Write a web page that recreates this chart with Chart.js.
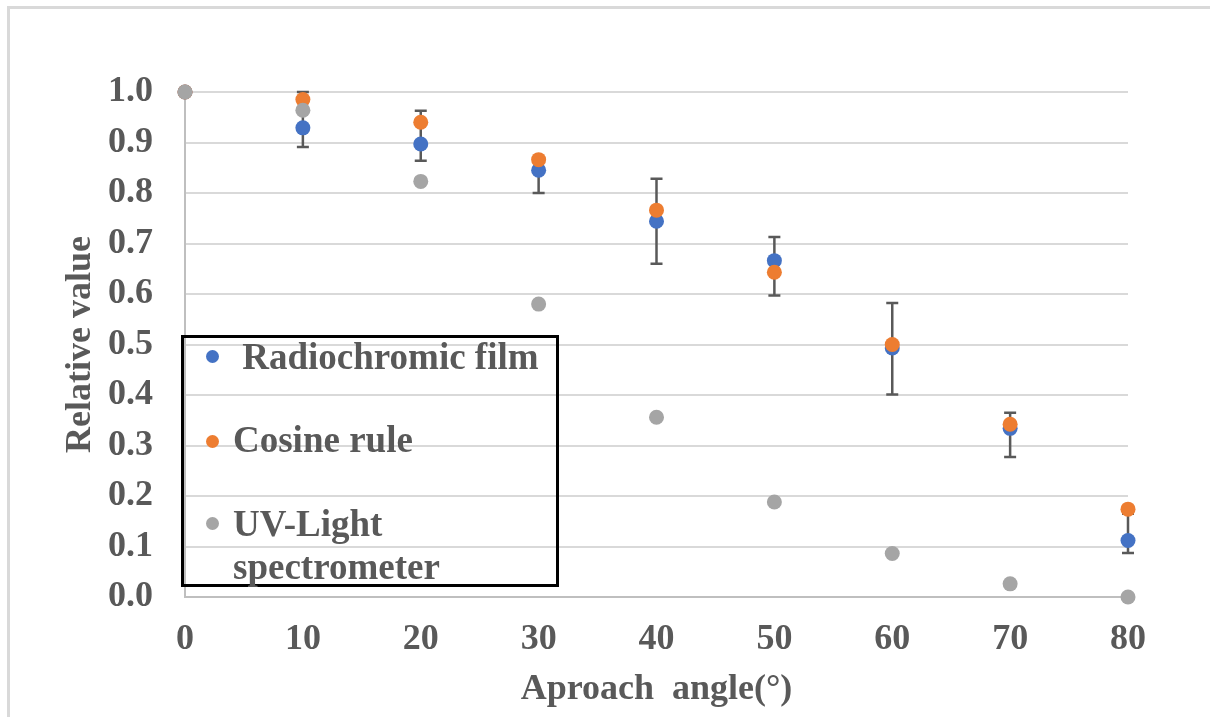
<!DOCTYPE html>
<html>
<head>
<meta charset="utf-8">
<script src="https://cdn.jsdelivr.net/npm/chart.js@4.4.1/dist/chart.umd.min.js"></script>
<style>
  body { margin: 0; background: #fff; overflow: hidden; }
  #wrap { position: relative; width: 1210px; height: 717px; overflow: hidden; }
  #frame { position: absolute; left: 7px; top: 6px; width: 1300px; height: 800px; border: 3px solid #d9d9d9; }
  #myChart { position: absolute; left: 0; top: 0; }
  #legend { position: absolute; left: 181px; top: 335px; width: 372px; height: 246px; border: 3px solid #000; }
  .item { position: absolute; left: 0; font: bold 37px "Liberation Serif", "Times New Roman", serif; color: #595959; line-height: 43px; white-space: pre; }
  .item .dot { position: absolute; width: 13px; height: 13px; border-radius: 50%; }
  .item .txt { position: absolute; left: 49px; top: 0; }
</style>
</head>
<body>
<div id="wrap">
  <div id="frame"></div>
  <canvas id="myChart" width="1210" height="717"></canvas>
  <div id="legend"></div>
</div>
<script>
var angles = [0, 10, 20, 30, 40, 50, 60, 70, 80];
var film = [1.0, 0.929, 0.897, 0.845, 0.744, 0.666, 0.493, 0.334, 0.112];
var cosine = [1.0, 0.985, 0.940, 0.866, 0.766, 0.643, 0.500, 0.342, 0.174];
var uv = [1.0, 0.964, 0.823, 0.580, 0.356, 0.188, 0.086, 0.026, 0.0];
// error bar bounds of the film series
var filmLow = [null, 0.891, 0.864, 0.800, 0.660, 0.597, 0.401, 0.277, 0.087];
var filmHigh = [null, 1.0, 0.963, 0.870, 0.828, 0.713, 0.582, 0.365, 0.165];
var labels = [' Radiochromic film', 'Cosine rule', 'UV-Light\nspectrometer'];
var colors = ['#4472C4', '#ED7D31', '#A5A5A5'];

function points(vals) {
	var out = [];
	for (var i in angles) out.push({x: angles[i], y: vals[i]});
	return out;
}

var errorBars = {
	id: 'errorBars',
	beforeDatasetsDraw: function(chart) {
		var ctx = chart.ctx, x = chart.scales.x, y = chart.scales.y;
		ctx.save();
		ctx.strokeStyle = '#595959';
		ctx.lineWidth = 2.5;
		for (var i = 0; i < angles.length; i++) {
			if (filmLow[i] === null) continue;
			var px = x.getPixelForValue(angles[i]);
			var lo = y.getPixelForValue(filmLow[i]);
			var hi = y.getPixelForValue(filmHigh[i]);
			ctx.beginPath();
			ctx.moveTo(px, lo); ctx.lineTo(px, hi);
			ctx.moveTo(px - 6, lo); ctx.lineTo(px + 6, lo);
			ctx.moveTo(px - 6, hi); ctx.lineTo(px + 6, hi);
			ctx.stroke();
		}
		ctx.restore();
	}
};

var font = {family: '"Liberation Serif", "Times New Roman", serif', weight: 'bold', size: 36};
var ctx = document.getElementById('myChart');
var chart = new Chart(ctx, {
	type: 'scatter',
	data: {
		datasets: [
			{label: labels[0], data: points(film), backgroundColor: colors[0], borderColor: colors[0], order: 3},
			{label: labels[1], data: points(cosine), backgroundColor: colors[1], borderColor: colors[1], order: 2},
			{label: labels[2], data: points(uv), backgroundColor: colors[2], borderColor: colors[2], order: 1}
		]
	},
	options: {
		responsive: false,
		animation: false,
		devicePixelRatio: 1,
		layout: {padding: {top: 92, right: 82, left: 0, bottom: 0}},
		elements: {point: {radius: 7.5, hoverRadius: 7.5, borderWidth: 0}},
		datasets: {scatter: {clip: false}},
		plugins: {legend: {display: false}, tooltip: {enabled: false}},
		scales: {
			x: {
				type: 'linear', min: 0, max: 80,
				ticks: {stepSize: 10, padding: 21, color: '#595959', font: font},
				grid: {display: false, drawTicks: false},
				border: {display: true, color: '#bfbfbf', width: 2},
				title: {display: true, text: 'Aproach  angle(°)', color: '#595959', font: font, padding: {top: 0, bottom: 6}},
				afterFit: function(scale) { scale.height = 120; }
			},
			y: {
				min: 0, max: 1,
				ticks: {stepSize: 0.1, padding: 32, color: '#595959', font: font,
					callback: function(v) { return v.toFixed(1); }},
				grid: {drawTicks: false, lineWidth: 2,
					color: function(c) { return c.tick && c.tick.value === 0 ? '#bfbfbf' : '#d9d9d9'; }},
				border: {display: true, color: '#bfbfbf', width: 2},
				title: {display: true, text: 'Relative value', color: '#595959', font: font, padding: {top: 59, bottom: 0}},
				afterFit: function(scale) { scale.width = 185; }
			}
		}
	},
	plugins: [errorBars]
});

// legend drawn as html over the plot
var rowTops = [335, 418, 502];
var dotTops = [350, 435, 517];
var legendBox = document.getElementById('legend');
for (var i in labels) {
	var item = document.createElement('div');
	item.className = 'item';
	item.style.top = (rowTops[i] - 338) + 'px';
	var dot = document.createElement('span');
	dot.className = 'dot';
	dot.style.background = colors[i];
	dot.style.left = (206 - 184) + 'px';
	dot.style.top = (dotTops[i] - rowTops[i]) + 'px';
	var txt = document.createElement('span');
	txt.className = 'txt';
	txt.textContent = labels[i];
	item.appendChild(dot);
	item.appendChild(txt);
	legendBox.appendChild(item);
}
</script>
</body>
</html>
